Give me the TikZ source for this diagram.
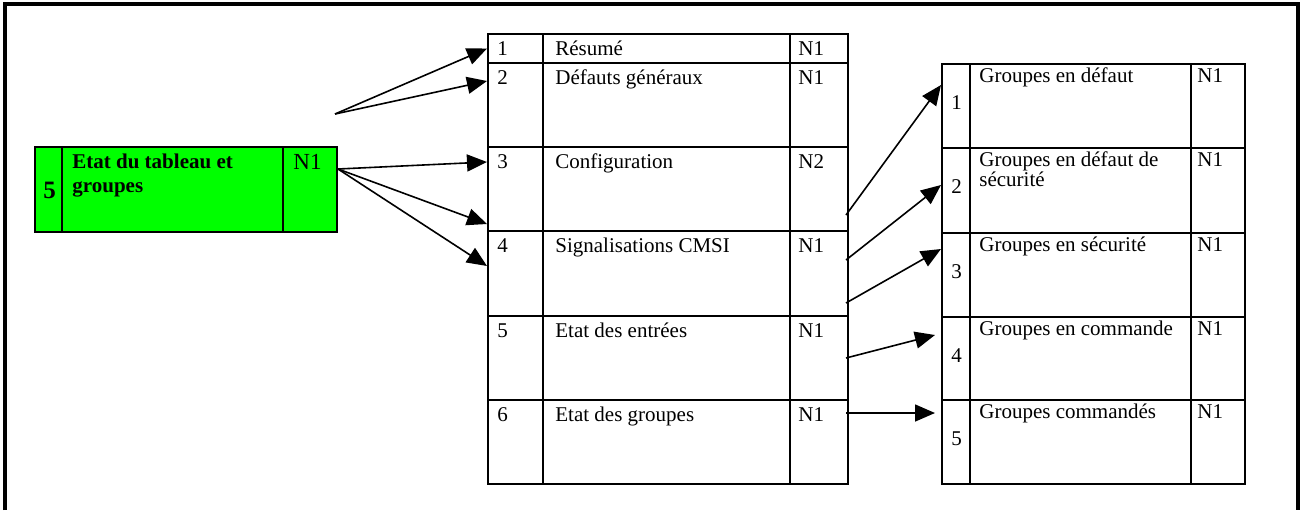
\documentclass[tikz,border=0pt]{standalone}
\usepackage{fontspec}
\setmainfont{Liberation Serif}
\usetikzlibrary{arrows.meta,positioning}

\tikzset{
  cell/.style={draw, line width=1pt, anchor=north west, inner sep=0pt, minimum width=#1},
  lbl/.style={anchor=base west, inner sep=0pt, font=\fontsize{10.5}{10}\selectfont, align=left},
  link/.style={line width=0.8pt, -{Triangle[length=10pt,width=8.5pt]}},
}

\begin{document}
\begin{tikzpicture}[x=0.5pt, y=-0.5pt]
  \useasboundingbox (0,0) rectangle (1302,510);
  \draw[line width=2pt] (5,510) -- (5,4) -- (1298,4) -- (1298,510);

  % entree du menu principal
  \node[cell=151pt, minimum height=42.5pt, fill=green] (etat) at (34,146) {};
  \draw[line width=1pt] (62,146) -- (62,231) (283,146) -- (283,231);
  \node[lbl, font=\fontsize{12.5}{12}\bfseries] (etat-num) at (43,198) {5};
  % base = derniere ligne
  \node[lbl, font=\fontsize{10.5}{11.75}\bfseries] (etat-txt) at (72,192) {Etat du tableau et\\groupes};
  \node[lbl, font=\fontsize{11.5}{12}\selectfont] (etat-lvl) at (293,169) {N1};

  % sous-menu
  \foreach \n/\ya/\yb/\name/\lvl in {1/33/62/Résumé/N1, 2/62/146/Défauts généraux/N1,
      3/146/230/Configuration/N2, 4/230/315/Signalisations CMSI/N1,
      5/315/399/Etat des entrées/N1, 6/399/483/Etat des groupes/N1}{
    \node[cell=180pt, minimum height={(\yb-\ya)*0.5pt}] (menu\n) at (487,\ya) {};
    \node[lbl] (menu\n-num) at (497,\ya+22) {\n};
    \node[lbl] (menu\n-txt) at (555,\ya+22) {\name};
    \node[lbl] (menu\n-lvl) at (798,\ya+22) {\lvl};
  }
  \draw[line width=1pt] (543,33) -- (543,483) (790,33) -- (790,483);

  % groupes
  \foreach \n/\ya/\yb/\dy/\name in {1/63/147/19/Groupes en défaut, 2/147/232/39/Groupes en défaut de\\sécurité,
      3/232/316/19/Groupes en sécurité, 4/316/399/19/Groupes en commande, 5/399/483/19/Groupes commandés}{
    \node[cell=151.5pt, minimum height={(\yb-\ya)*0.5pt}] (grp\n) at (941,\ya) {};
    \node[lbl] (grp\n-num) at (951,\ya+46) {\n};
    \node[lbl] (grp\n-txt) at (979,\ya+\dy) {\name};
    \node[lbl] (grp\n-lvl) at (1197,\ya+19) {N1};
  }
  \draw[line width=1pt] (970,63) -- (970,483) (1191,63) -- (1191,483);

  % fleches vers le sous-menu
  \coordinate (fork) at (335,114);
  \draw[link] (fork) -- (menu1.west);
  \draw[link] (fork) -- ([yshift=-9.5pt]menu2.north west);
  \draw[link] ([yshift=10.25pt]etat.east) -- ([yshift=-8pt]menu3.north west);
  \draw[link] ([yshift=10.25pt]etat.east) -- ([yshift=4pt]menu3.south west);
  \draw[link] ([yshift=10.25pt]etat.east) -- ([yshift=-18pt]menu4.north west);

  % fleches vers les groupes
  \draw[link] ([xshift=-1.5pt,yshift=8.5pt]menu3.south east) -- ([yshift=-11pt]grp1.north west);
  \draw[link] ([xshift=-1.5pt,yshift=-15pt]menu4.north east) -- ([yshift=-19pt]grp2.north west);
  \draw[link] ([xshift=-1.5pt,yshift=7pt]menu4.south east) -- ([yshift=-8.5pt]grp3.north west);
  \draw[link] ([xshift=-1.5pt,yshift=-21.5pt]menu5.north east) -- ([xshift=-3pt,yshift=-9.5pt]grp4.north west);
  \draw[link] ([xshift=-1.5pt,yshift=-7pt]menu6.north east) -- ([xshift=-3pt,yshift=-7pt]grp5.north west);
\end{tikzpicture}
\end{document}
